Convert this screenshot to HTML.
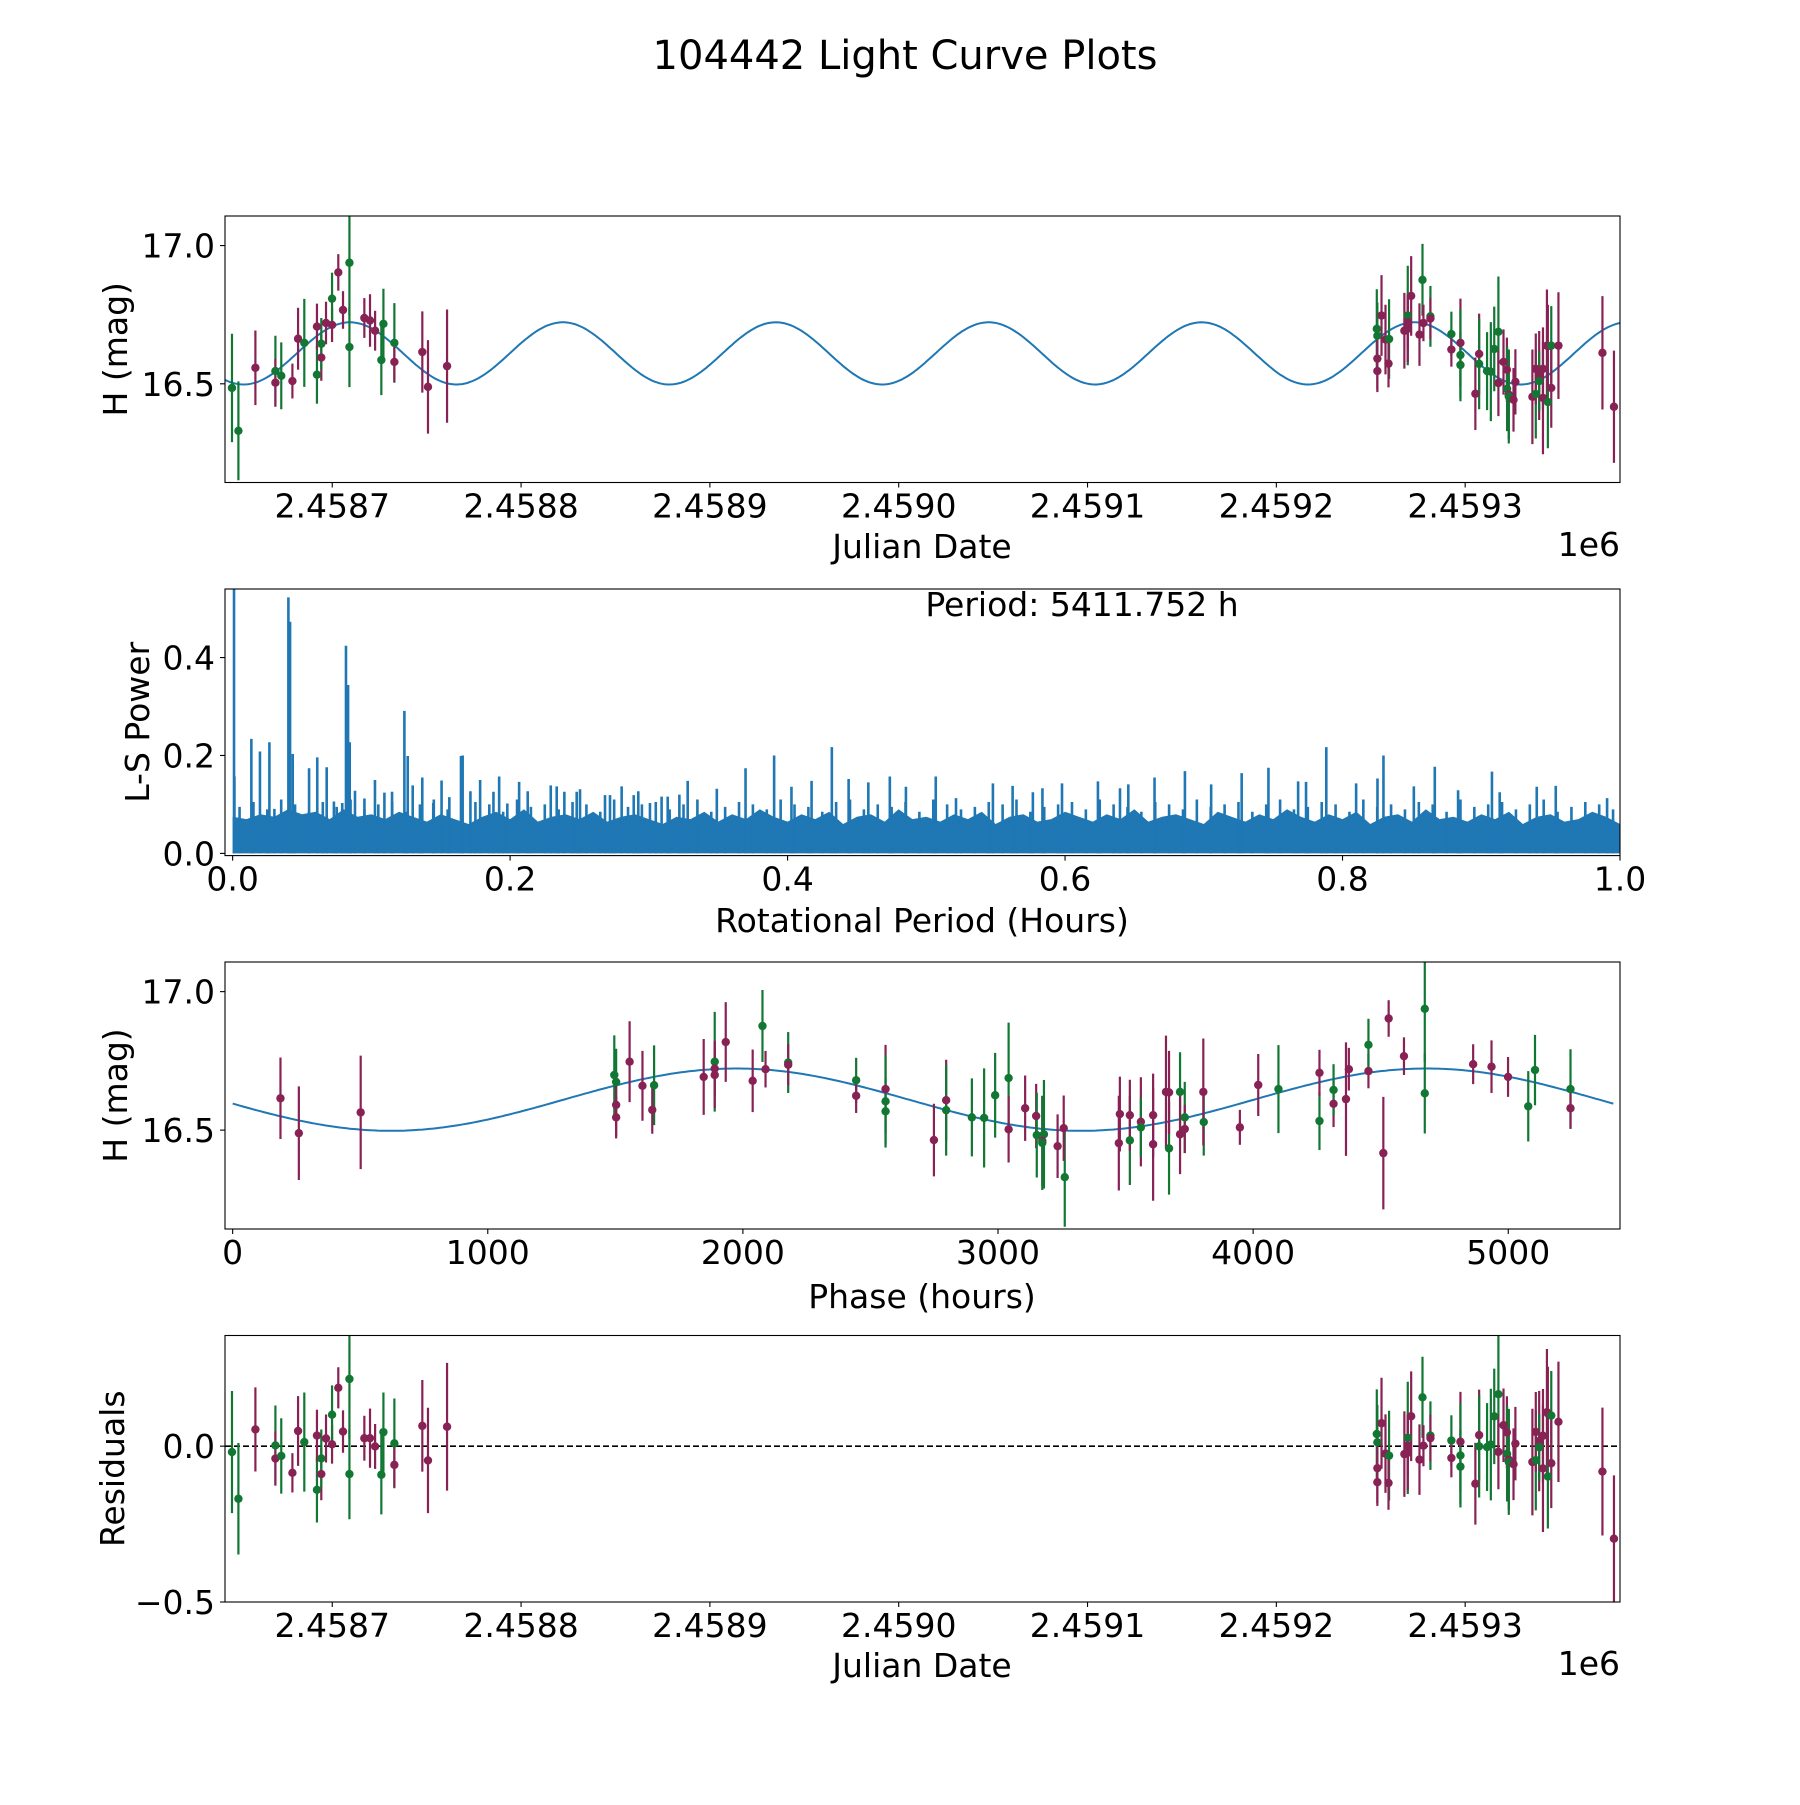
<!DOCTYPE html>
<html><head><meta charset="utf-8"><style>
html,body{margin:0;padding:0;background:#fff;}
svg text{font-family:"DejaVu Sans","Liberation Sans",sans-serif;fill:#000;}
</style></head><body>
<svg id="fig" xmlns="http://www.w3.org/2000/svg" width="1800" height="1800" viewBox="0 0 1800 1800">
<rect x="0" y="0" width="1800" height="1800" fill="#fff"/>
<text x="905" y="69" font-size="40" text-anchor="middle">104442 Light Curve Plots</text>
<g id="g1"></g>
<g id="g2"></g>
<g id="g3"></g>
<g id="g4"></g>
</svg>
<script>
// observations: days since JD 2458600
const obsDay = [46.9,50.3,59.3,69.9,69.9,73.0,78.9,81.9,85.2,91.9,91.9,94.2,94.2,96.7,99.9,99.9,103.2,105.7,109.1,109.1,117.0,120.0,122.7,126.0,127.1,132.9,132.9,147.7,150.7,160.8,
653.2,653.5,653.5,653.5,655.7,657.8,659.7,659.4,667.8,669.6,669.6,669.6,671.4,675.8,677.4,677.9,681.6,681.6,692.7,692.7,697.5,697.5,697.5,705.4,707.4,707.4,711.6,713.6,715.4,717.6,717.6,720.3,722.1,722.2,723.1,723.1,725.6,726.6,735.6,737.4,737.4,739.2,739.2,741.2,741.2,743.3,743.8,743.8,745.6,745.6,749.4,772.7,778.8];
const obsMag = [16.485,16.330,16.558,16.546,16.504,16.529,16.510,16.663,16.648,16.533,16.707,16.595,16.645,16.720,16.713,16.808,16.903,16.767,16.938,16.633,16.738,16.729,16.692,16.586,16.717,16.648,16.579,16.615,16.489,16.564,
16.699,16.674,16.591,16.546,16.747,16.660,16.662,16.573,16.692,16.747,16.722,16.699,16.818,16.678,16.876,16.720,16.744,16.736,16.680,16.624,16.648,16.604,16.568,16.464,16.608,16.572,16.546,16.544,16.626,16.688,16.503,16.579,16.551,16.482,16.461,16.454,16.442,16.507,16.453,16.463,16.554,16.530,16.510,16.449,16.554,16.638,16.434,16.636,16.638,16.485,16.638,16.612,16.417];
const obsErr = [.196,.179,.135,.128,.087,.121,.063,.112,.159,.105,.083,.084,.093,.077,.062,.094,.066,.068,.192,.145,.072,.095,.072,.127,.127,.144,.072,.147,.169,.205,
.143,.12,.112,.076,.146,.126,.144,.086,.137,.18,.101,.12,.144,.113,.13,.066,.11,.075,.081,.062,.16,.167,.12,.131,.146,.164,.141,.179,.153,.2,.12,.118,.116,.153,.161,.17,.115,.118,.171,.161,.128,.161,.107,.204,.15,.203,.167,.15,.143,.144,.193,.205,.203];
const obsBand = "GGMGMGMMGGMMGMMGMMGGMMMGGGMMMMGGMMMMGMMGMMMMGMGMGMMGGMMGGGGGMMMGMGMMMGMMGMMMGMGMMMM";
// model parameters
const modelMean = 16.61, modelAmp = 0.1125, modelPeriodH = 5411.752, modelPeakDay = 109.4, phaseZeroDay = -85.6;
// x ticks
const jdTickDays = [100,200,300,400,500,600,700];
const jdTickLabels = ["2.4587","2.4588","2.4589","2.4590","2.4591","2.4592","2.4593"];
const magTicks = [16.5,17.0], magTickLabels = ["16.5","17.0"];
const phaseTicks = [0,1000,2000,3000,4000,5000];
const lsXTicks = [0,0.2,0.4,0.6,0.8,1.0], lsXTickLabels = ["0.0","0.2","0.4","0.6","0.8","1.0"];
const lsYTicks = [0,0.2,0.4], lsYTickLabels = ["0.0","0.2","0.4"];
const resTicks = [-0.5,0.0], resTickLabels = ["\u22120.5","0.0"];
// periodogram peaks
const spikePeriod = [0.001,0.0013,0.0135,0.0197,0.0265,0.0301,0.0402,0.0414,0.0433,0.0551,0.061,0.0678,0.073,0.079,0.0817,0.0832,0.0844,0.0882,0.095,0.1026,0.1094,0.1149,0.1238,0.1262,0.1298,0.1367,0.1446,0.1506,0.1562,0.1646,0.1658,0.1714,0.1784,0.188,0.1921,0.198,0.2065,0.2127,0.2293,0.2336,0.2391,0.248,0.2504,0.2684,0.272,0.2804,0.2891,0.2924,0.3008,0.3092,0.3136,0.322,0.328,
0.349,0.3697,0.3903,0.4028,0.4173,0.4319,0.444,0.4582,0.4737,0.4853,0.5068,0.5214,0.548,0.5622,0.5768,0.5837,0.5978,0.6237,0.6396,0.6456,0.6645,0.6864,0.7053,0.7273,0.7466,0.768,0.7737,0.7883,0.8098,0.8252,0.8295,0.8514,0.8665,0.8833,0.9077,0.9133,0.94,0.9537,0.9907];
const spikePower = [0.56,0.157,0.234,0.208,0.227,0.091,0.523,0.473,0.203,0.174,0.196,0.176,0.106,0.103,0.424,0.344,0.227,0.128,0.112,0.15,0.124,0.126,0.291,0.199,0.139,0.155,0.103,0.149,0.115,0.199,0.2,0.127,0.15,0.126,0.157,0.102,0.146,0.127,0.139,0.137,0.126,0.126,0.131,0.119,0.119,0.137,0.119,0.127,0.103,0.116,0.116,0.12,0.148,
0.132,0.174,0.2,0.136,0.148,0.217,0.152,0.145,0.157,0.136,0.157,0.113,0.143,0.138,0.125,0.133,0.143,0.147,0.133,0.141,0.155,0.168,0.141,0.164,0.175,0.147,0.146,0.217,0.143,0.153,0.2,0.137,0.177,0.129,0.167,0.125,0.136,0.138,0.113];
// dense floor level, one value per 0.01 in period
const lsFloor = [0.075,0.07,0.08,0.075,0.09,0.08,0.085,0.07,0.09,0.075,0.08,0.07,0.085,0.075,0.065,0.08,0.07,0.06,0.075,0.085,0.07,0.09,0.065,0.075,0.08,0.07,0.085,0.065,0.075,0.08,0.07,0.06,0.075,0.07,0.085,0.065,0.08,0.07,0.09,0.075,
0.065,0.08,0.07,0.085,0.06,0.075,0.08,0.065,0.09,0.07,0.075,0.065,0.08,0.07,0.085,0.06,0.075,0.08,0.065,0.07,0.085,0.075,0.065,0.08,0.07,0.09,0.065,0.075,0.08,0.07,0.06,0.085,0.075,0.065,0.08,0.07,0.09,0.075,0.065,0.08,
0.07,0.085,0.06,0.075,0.08,0.065,0.09,0.07,0.075,0.065,0.08,0.07,0.085,0.06,0.075,0.08,0.065,0.07,0.085,0.075,0.06];
const lsFine = [0.095,0.105,0.09,0.11,0.1,0.085,0.105,0.095,0.11,0.09,0.1,0.105,0.085,0.1,0.11,0.09,0.095,0.105,0.1,0.085,0.11,0.095,0.1,0.09,0.105,0.1,0.085,0.11,0.095,0.1,0.105,0.09,0.1,0.11,0.085,0.095,0.105,0.1,0.09,0.11,
0.1,0.095,0.085,0.105,0.11,0.09,0.1,0.095,0.105,0.085,0.11,0.1,0.09,0.095,0.105,0.1,0.11,0.085,0.095,0.1,0.105,0.09,0.11,0.1,0.095,0.085,0.105,0.1,0.09,0.11,0.095,0.1,0.105,0.085,0.1,0.11,0.09,0.095,0.105,0.1,
0.085,0.11,0.095,0.1,0.09,0.105,0.1,0.085,0.11,0.095,0.1,0.105,0.09,0.1,0.11,0.085,0.095,0.105,0.1,0.09];

const NS = "http://www.w3.org/2000/svg";
const L = 225, R = 1620, W = R - L;
const COL = {G:"#117733", M:"#882255"};
function el(tag, attrs, parent){ const e = document.createElementNS(NS, tag); for (const k in attrs) e.setAttribute(k, attrs[k]); parent.appendChild(e); return e; }
function lin(d0,d1,r0,r1){ return v => r0 + (v-d0)/(d1-d0)*(r1-r0); }
function model(day){ return modelMean + modelAmp*Math.cos(2*Math.PI*(day-modelPeakDay)*24/(modelPeriodH/2)); }
function phaseOf(day){ let p = ((day-phaseZeroDay)*24) % modelPeriodH; if (p<0) p+=modelPeriodH; return p; }

function frame(g, top, bot, id){
  const cp = el('clipPath',{id:id},g); el('rect',{x:L,y:top,width:W,height:bot-top},cp);
  const inner = el('g',{'clip-path':'url(#'+id+')'},g);
  
  
  return inner;
}
function spines(g, top, bot){
  const r = el('rect',{x:L,y:top,width:W,height:bot-top,fill:'none',stroke:'#000','stroke-width':1.1},g);
  
  
}
function xTicks(g, bot, vals, labels, sx, name){
  vals.forEach((v,i)=>{ const x = sx(v);
    const t = el('line',{x1:x,x2:x,y1:bot,y2:bot+5,stroke:'#000','stroke-width':1.1},g);
    
    
    const tx = el('text',{x:x,y:bot+35,'font-size':33,'text-anchor':'middle'},g); tx.textContent = labels[i];
    
    
  });
}
function yTicks(g, vals, labels, sy, name){
  vals.forEach((v,i)=>{ const y = sy(v);
    const t = el('line',{x1:L-5,x2:L,y1:y,y2:y,stroke:'#000','stroke-width':1.1},g);
    
    
    const tx = el('text',{x:L-10,y:y+12,'font-size':33,'text-anchor':'end'},g); tx.textContent = labels[i];
    
    
  });
}
function label(g, x, y, txt, rot, name){
  const t = el('text',{x:x,y:y,'font-size':33,'text-anchor':'middle'},g);
  if (rot) t.setAttribute('transform','rotate(-90 '+x+' '+y+')');
  t.textContent = txt;
  
  
}
function points(inner, xs, ys, sy, errs){
  xs.forEach((x,i)=>{ const c = COL[obsBand[i]]||COL.M;
    const e = el('line',{x1:x,x2:x,y1:sy(ys[i]-errs[i]),y2:sy(ys[i]+errs[i]),stroke:c,'stroke-width':2.2},inner);
    
    
  });
  xs.forEach((x,i)=>{ const c = COL[obsBand[i]]||COL.M;
    const p = el('circle',{cx:x,cy:sy(ys[i]),r:4.2,fill:c},inner);
    
    
  });
}
const dMin = 43.2, dMax = 782;
const sxJ = lin(dMin,dMax,L,R);

// Panel 1
(function(){
  const g = document.getElementById('g1'); const top=216, bot=482.5;
  const sy = lin(16.143,17.107,bot,top);
  const inner = frame(g, top, bot, 'c1');
  let d = ''; for (let k=0;k<=600;k++){ const day = dMin + (dMax-dMin)*k/600; d += (k?'L':'M')+sxJ(day).toFixed(1)+','+sy(model(day)).toFixed(1); }
  const ml = el('path',{d:d,fill:'none',stroke:'#1f77b4','stroke-width':2},inner);
  
  
  points(inner, obsDay.map(sxJ), obsMag, sy, obsErr);
  spines(g, top, bot);
  xTicks(g, bot, jdTickDays, jdTickLabels, sxJ, 'x-tick-label');
  yTicks(g, magTicks, magTickLabels, sy, 'y-tick-label');
  label(g, 922, 558, 'Julian Date', false, 'x-axis-title');
  label(g, 127, (top+bot)/2, 'H (mag)', true, 'y-axis-title');
  const o = el('text',{x:R,y:556,'font-size':33,'text-anchor':'end'},g); o.textContent='1e6';
  
  
})();

// Panel 2
(function(){
  const g = document.getElementById('g2'); const top=589, bot=855.6;
  const sx = lin(-0.0055,1.0,L,R), sy = lin(-0.0045,0.54,bot,top);
  const inner = frame(g, top, bot, 'c2');
  const n = lsFloor.length;
  let d = 'M'+sx(0)+','+sy(0);
  lsFloor.forEach((v,i)=>{ const x0 = sx(i/(n-1)*1.0); d += 'L'+x0.toFixed(1)+','+sy(v).toFixed(1); });
  d += 'L'+sx(1)+','+sy(0)+'Z';
  const f = el('path',{d:d,fill:'#1f77b4'},inner);
  
  
  const m = lsFine.length;
  lsFine.forEach((v,i)=>{ const x = sx((i+0.5)/m);
    const s = el('line',{x1:x,x2:x,y1:sy(0),y2:sy(v),stroke:'#1f77b4','stroke-width':2.6},inner);
    
    
  });
  spikePeriod.forEach((p,i)=>{ const x = sx(p);
    const s = el('line',{x1:x,x2:x,y1:sy(0),y2:sy(spikePower[i]),stroke:'#1f77b4','stroke-width':2.6},inner);
    
    
  });
  spines(g, top, bot);
  xTicks(g, bot, lsXTicks, lsXTickLabels, sx, 'x-tick-label');
  yTicks(g, lsYTicks, lsYTickLabels, sy, 'y-tick-label');
  label(g, 922, 932, 'Rotational Period (Hours)', false, 'x-axis-title');
  label(g, 149, (top+bot)/2, 'L-S Power', true, 'y-axis-title');
  const t = el('text',{x:1082,y:616,'font-size':33,'text-anchor':'middle'},g); t.textContent='Period: 5411.752 h';
  
  
})();

// Panel 3
(function(){
  const g = document.getElementById('g3'); const top=962, bot=1229;
  const sx = lin(-30,5438,L,R), sy = lin(16.143,17.107,bot,top);
  const inner = frame(g, top, bot, 'c3');
  let d=''; for (let k=0;k<=400;k++){ const ph = modelPeriodH*k/400; const day = modelPeakDay + (ph-phaseOf(modelPeakDay))/24;
    d += (k?'L':'M')+sx(ph).toFixed(1)+','+sy(model(day)).toFixed(1); }
  const ml = el('path',{d:d,fill:'none',stroke:'#1f77b4','stroke-width':2},inner);
  
  
  points(inner, obsDay.map(v=>sx(phaseOf(v))), obsMag, sy, obsErr);
  spines(g, top, bot);
  xTicks(g, bot, phaseTicks, phaseTicks.map(String), sx, 'x-tick-label');
  yTicks(g, magTicks, magTickLabels, sy, 'y-tick-label');
  label(g, 922, 1308, 'Phase (hours)', false, 'x-axis-title');
  label(g, 127, (top+bot)/2, 'H (mag)', true, 'y-axis-title');
})();

// Panel 4
(function(){
  const g = document.getElementById('g4'); const top=1335.5, bot=1602;
  const sy = lin(-0.5,0.355,bot,top);
  const inner = frame(g, top, bot, 'c4');
  const z = el('line',{x1:L,x2:R,y1:sy(0),y2:sy(0),stroke:'#000','stroke-width':1.6,'stroke-dasharray':'6,3'},inner);
  
  
  const res = obsMag.map((m,i)=>m - model(obsDay[i]));
  points(inner, obsDay.map(sxJ), res, sy, obsErr);
  spines(g, top, bot);
  xTicks(g, bot, jdTickDays, jdTickLabels, sxJ, 'x-tick-label');
  yTicks(g, resTicks, resTickLabels, sy, 'y-tick-label');
  label(g, 922, 1677, 'Julian Date', false, 'x-axis-title');
  label(g, 124, (top+bot)/2, 'Residuals', true, 'y-axis-title');
  const o = el('text',{x:R,y:1675,'font-size':33,'text-anchor':'end'},g); o.textContent='1e6';
  
  
})();
</script>
</body></html>
